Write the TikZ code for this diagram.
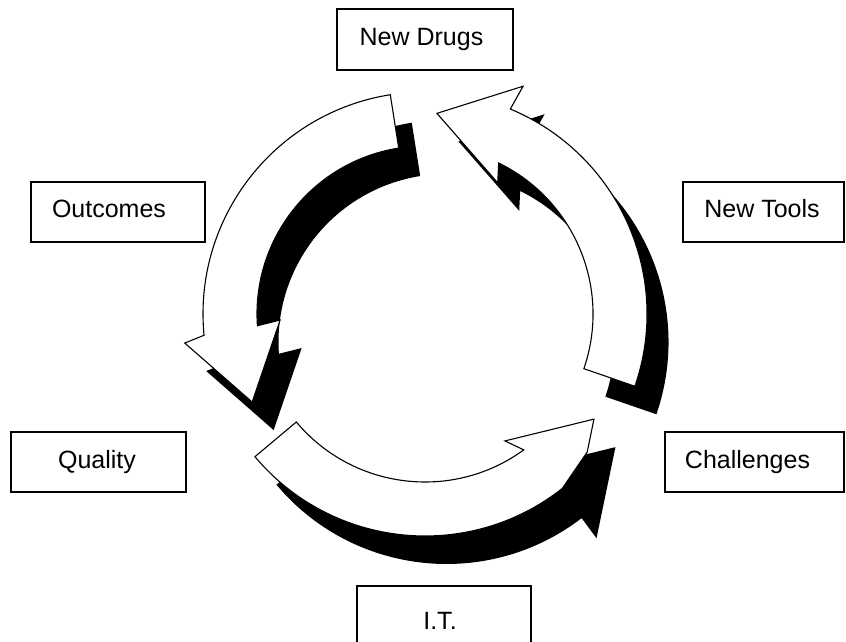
\documentclass[tikz,border=0pt]{standalone}
\usepackage{fontspec}
\setmainfont{Liberation Sans}
\newcommand\arrowLeft[1]{\path[#1] (99:222pt) arc[start angle=99,end angle=185.5,radius=222pt] -- (186.9:242pt) -- (207:194pt) -- (182.4:145pt) -- (184:168pt) arc[start angle=184,end angle=99,radius=168pt] -- cycle;}
\newcommand\arrowRight[1]{\path[#1] (-19:222pt) arc[start angle=-19,end angle=67.4,radius=222pt] -- (66.7:248pt) -- (86.6:201pt) -- (61:150pt) -- (64:168pt) arc[start angle=64,end angle=-19,radius=168pt] -- cycle;}
\newcommand\arrowBottomShadow[1]{\path[#1] (220:222pt) arc[start angle=220,end angle=307.5,radius=222pt] -- (307.4:247pt) -- (328.1:199pt) -- (302.2:150pt) -- (306:168pt) arc[start angle=306,end angle=220,radius=168pt] -- cycle;}
\newcommand\arrowBottomFace[1]{\path[#1] (220:222pt) arc[start angle=220,end angle=308.2,radius=222pt] -- (319.6:213pt) -- (328.1:199pt) -- (302.2:150pt) -- (306:168pt) arc[start angle=306,end angle=220,radius=168pt] -- cycle;}
\begin{document}
\begin{tikzpicture}[x=1pt,y=1pt,
  box/.style={draw=black,line width=1.6pt,rectangle,inner sep=0pt},
  lbl/.style={font=\fontsize{25}{30}\selectfont,inner sep=0pt,anchor=base},
  shadowfill/.style={fill=black},
  face/.style={fill=white,draw=black,line width=1.1pt,line join=miter}]
\useasboundingbox (0,0) rectangle (846,642);
\clip (0,0) rectangle (846,642);
\fill[white] (0,0) rectangle (846,642);
% shadows
\begin{scope}[shift={(446.5,300)}]
  \arrowLeft{shadowfill}
  \arrowRight{shadowfill}
  \arrowBottomShadow{shadowfill}
\end{scope}
% faces
\begin{scope}[shift={(425,328)}]
  \arrowLeft{face}
  \arrowRight{face}
  \arrowBottomFace{face}
\end{scope}
% boxes
\node[box,minimum width=176pt,minimum height=61pt] (drugs) at (425,602.5) {};
\node[box,minimum width=174pt,minimum height=60pt] (outcomes) at (118,430) {};
\node[box,minimum width=161pt,minimum height=60pt] (tools) at (763.5,430) {};
\node[box,minimum width=175pt,minimum height=60pt] (quality) at (98.5,180) {};
\node[box,minimum width=179pt,minimum height=60pt] (challenges) at (754.5,180) {};
\node[box,minimum width=174pt,minimum height=76pt] (it) at (444,18) {};
% labels
\node[lbl] (drugsT) at (421.5,596) {New Drugs};
\node[lbl] (outcomesT) at (109,424) {Outcomes};
\node[lbl] (toolsT) at (762,424) {New Tools};
\node[lbl] (qualityT) at (97,173) {Quality};
\node[lbl] (challengesT) at (747.5,173) {Challenges};
\node[lbl] (itT) at (440,12) {I.T.};
\end{tikzpicture}
\end{document}
